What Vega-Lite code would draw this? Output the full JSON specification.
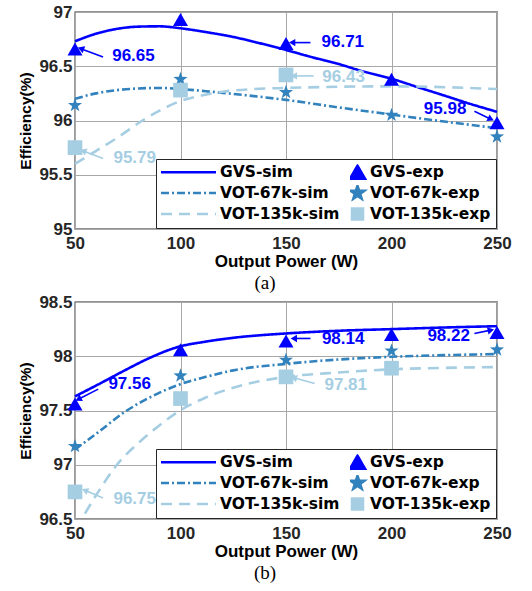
{
  "$schema": "https://vega.github.io/schema/vega-lite/v6.json",
  "padding": {"left": 18, "top": 2, "right": 0, "bottom": 0},
  "background": "white",
  "spacing": -2,
  "config": {
    "font": "Liberation Sans",
    "view": {"stroke": "#262626", "strokeWidth": 1.3},
    "axis": {
      "labelFont": "Liberation Sans", "labelFontWeight": "bold", "labelFontSize": 17, "labelColor": "#262626",
      "titleFont": "Liberation Sans", "titleFontWeight": "bold", "titleFontSize": 17, "titleColor": "#000000",
      "grid": true, "gridColor": "#a8a8a8", "gridWidth": 1, "gridOpacity": 1,
      "domain": false, "ticks": false, "labelFlush": false
    },
    "axisX": {"labelPadding": 6, "titlePadding": 2},
    "axisY": {"labelPadding": 3, "titlePadding": 5, "titleFontSize": 15.5},
    "legend": {
      "orient": "bottom-right", "offset": 1, "columns": 2, "columnPadding": 10, "rowPadding": 4,
      "clipHeight": 16, "padding": 5, "strokeColor": "#262626", "fillColor": "#ffffff",
      "labelFont": "DejaVu Sans", "labelFontWeight": "bold", "labelFontSize": 15.5, "labelColor": "#000000",
      "symbolSize": 3025, "symbolStrokeWidth": 2.5, "cornerRadius": 0
    }
  },
  "resolve": {"scale": {"color": "independent", "shape": "independent", "strokeDash": "independent", "size": "independent", "angle": "independent"}},
  "vconcat": [
    {
      "width": 422, "height": 217,
      "title": {"text": "(a)", "orient": "bottom", "font": "Liberation Serif", "fontSize": 19, "fontWeight": "normal", "frame": "bounds", "anchor": "middle", "offset": 5, "color": "#000000"},
      "layer": [
        {
          "data": {"values": [
            {"series": "GVS-sim", "power": 50, "eff": 96.73},
            {"series": "GVS-sim", "power": 60, "eff": 96.80},
            {"series": "GVS-sim", "power": 70, "eff": 96.845},
            {"series": "GVS-sim", "power": 80, "eff": 96.865},
            {"series": "GVS-sim", "power": 90, "eff": 96.868},
            {"series": "GVS-sim", "power": 100, "eff": 96.85},
            {"series": "GVS-sim", "power": 112, "eff": 96.815},
            {"series": "GVS-sim", "power": 125, "eff": 96.77},
            {"series": "GVS-sim", "power": 137, "eff": 96.715},
            {"series": "GVS-sim", "power": 150, "eff": 96.65},
            {"series": "GVS-sim", "power": 162, "eff": 96.585},
            {"series": "GVS-sim", "power": 175, "eff": 96.52},
            {"series": "GVS-sim", "power": 187, "eff": 96.45},
            {"series": "GVS-sim", "power": 200, "eff": 96.385},
            {"series": "GVS-sim", "power": 212, "eff": 96.31},
            {"series": "GVS-sim", "power": 225, "eff": 96.23},
            {"series": "GVS-sim", "power": 237, "eff": 96.155},
            {"series": "GVS-sim", "power": 250, "eff": 96.08},
            {"series": "VOT-67k-sim", "power": 50, "eff": 96.20},
            {"series": "VOT-67k-sim", "power": 60, "eff": 96.25},
            {"series": "VOT-67k-sim", "power": 70, "eff": 96.28},
            {"series": "VOT-67k-sim", "power": 80, "eff": 96.295},
            {"series": "VOT-67k-sim", "power": 90, "eff": 96.30},
            {"series": "VOT-67k-sim", "power": 100, "eff": 96.29},
            {"series": "VOT-67k-sim", "power": 112, "eff": 96.27},
            {"series": "VOT-67k-sim", "power": 125, "eff": 96.245},
            {"series": "VOT-67k-sim", "power": 137, "eff": 96.22},
            {"series": "VOT-67k-sim", "power": 150, "eff": 96.19},
            {"series": "VOT-67k-sim", "power": 175, "eff": 96.12},
            {"series": "VOT-67k-sim", "power": 200, "eff": 96.055},
            {"series": "VOT-67k-sim", "power": 225, "eff": 95.99},
            {"series": "VOT-67k-sim", "power": 250, "eff": 95.93},
            {"series": "VOT-135k-sim", "power": 50, "eff": 95.60},
            {"series": "VOT-135k-sim", "power": 60, "eff": 95.72},
            {"series": "VOT-135k-sim", "power": 70, "eff": 95.84},
            {"series": "VOT-135k-sim", "power": 82, "eff": 96.0},
            {"series": "VOT-135k-sim", "power": 91, "eff": 96.10},
            {"series": "VOT-135k-sim", "power": 100, "eff": 96.18},
            {"series": "VOT-135k-sim", "power": 110, "eff": 96.23},
            {"series": "VOT-135k-sim", "power": 120, "eff": 96.265},
            {"series": "VOT-135k-sim", "power": 135, "eff": 96.29},
            {"series": "VOT-135k-sim", "power": 150, "eff": 96.30},
            {"series": "VOT-135k-sim", "power": 200, "eff": 96.315},
            {"series": "VOT-135k-sim", "power": 250, "eff": 96.29}
          ]},
          "mark": {"type": "line", "strokeWidth": 2.6, "interpolate": "monotone"},
          "encoding": {
            "x": {"field": "power", "type": "quantitative", "title": "Output Power (W)", "scale": {"domain": [50, 250], "nice": false, "zero": false}, "axis": {"values": [50, 100, 150, 200, 250]}},
            "y": {"field": "eff", "type": "quantitative", "title": "Efficiency(%)", "scale": {"domain": [95, 97], "nice": false, "zero": false}, "axis": {"values": [95, 95.5, 96, 96.5, 97], "format": "~g"}},
            "color": {"field": "series", "type": "nominal",
              "scale": {"domain": ["GVS-sim", "VOT-67k-sim", "VOT-135k-sim", "GVS-exp", "VOT-67k-exp", "VOT-135k-exp"], "range": ["#0000ff", "#3182bd", "#a6cee3", "#0000ff", "#3182bd", "#a6cee3"]},
              "legend": {"title": null,
                "encode": {
                  "symbols": {"update": {
                    "shape": {"signal": "test(/sim/, datum.label) ? 'stroke' : test(/GVS/, datum.label) ? 'triangle-up' : test(/67k/, datum.label) ? 'M0,-1L0.235,-0.324L0.951,-0.309L0.38,0.124L0.588,0.809L0,0.4L-0.588,0.809L-0.38,0.124L-0.951,-0.309L-0.235,-0.324Z' : 'square'"},
                    "size": {"signal": "test(/sim/, datum.label) ? 3025 : test(/GVS/, datum.label) ? 225 : test(/67k/, datum.label) ? 200 : 120"},
                    "x": {"signal": "test(/sim/, datum.label) ? 27.5 : 7.5"},
                    "fill": {"signal": "test(/sim/, datum.label) ? 'transparent' : test(/GVS/, datum.label) ? '#0000ff' : test(/67k/, datum.label) ? '#3182bd' : '#a6cee3'"},
                    "stroke": {"signal": "test(/exp/, datum.label) ? 'transparent' : test(/GVS/, datum.label) ? '#0000ff' : test(/67k/, datum.label) ? '#3182bd' : '#a6cee3'"},
                    "strokeDash": {"signal": "test(/67k-sim/, datum.label) ? [8,3,2,3] : test(/135k-sim/, datum.label) ? [11,7] : [1,0]"},
                    "strokeWidth": {"value": 2.6},
                    "opacity": {"value": 1}
                  }},
                  "labels": {"update": {"x": {"signal": "test(/exp/, datum.label) ? 20 : 59"}}}
                }
              }
            },
            "strokeDash": {"field": "series", "type": "nominal", "legend": null,
              "scale": {"domain": ["GVS-sim", "VOT-67k-sim", "VOT-135k-sim"], "range": [[1, 0], [8, 3, 2, 3], [11, 7]]}}
          }
        },
        {
          "data": {"values": [
            {"series": "GVS-exp", "power": 50, "eff": 96.66},
            {"series": "GVS-exp", "power": 100, "eff": 96.93},
            {"series": "GVS-exp", "power": 150, "eff": 96.71},
            {"series": "GVS-exp", "power": 200, "eff": 96.38},
            {"series": "GVS-exp", "power": 250, "eff": 95.98},
            {"series": "VOT-67k-exp", "power": 50, "eff": 96.14},
            {"series": "VOT-67k-exp", "power": 100, "eff": 96.38},
            {"series": "VOT-67k-exp", "power": 150, "eff": 96.26},
            {"series": "VOT-67k-exp", "power": 200, "eff": 96.05},
            {"series": "VOT-67k-exp", "power": 250, "eff": 95.85},
            {"series": "VOT-135k-exp", "power": 50, "eff": 95.75},
            {"series": "VOT-135k-exp", "power": 100, "eff": 96.28},
            {"series": "VOT-135k-exp", "power": 150, "eff": 96.42}
          ]},
          "mark": {"type": "point", "filled": true, "opacity": 1, "strokeWidth": 0},
          "encoding": {
            "x": {"field": "power", "type": "quantitative", "title": "Output Power (W)", "scale": {"domain": [50, 250], "nice": false, "zero": false}},
            "y": {"field": "eff", "type": "quantitative", "title": "Efficiency(%)", "scale": {"domain": [95, 97], "nice": false, "zero": false}},
            "color": {"field": "series", "type": "nominal"},
            "shape": {"field": "series", "type": "nominal", "legend": null,
              "scale": {"domain": ["GVS-exp", "VOT-67k-exp", "VOT-135k-exp"], "range": ["triangle-up", "M0,-1L0.235,-0.324L0.951,-0.309L0.38,0.124L0.588,0.809L0,0.4L-0.588,0.809L-0.38,0.124L-0.951,-0.309L-0.235,-0.324Z", "square"]}},
            "size": {"field": "series", "type": "nominal", "legend": null,
              "scale": {"domain": ["GVS-exp", "VOT-67k-exp", "VOT-135k-exp"], "range": [225, 216, 130]}}
          }
        },
        {
          "data": {"values": [
            {"label": "96.65", "series": "GVS-exp", "tx": 63.3, "ty": 96.586, "hx": 52.8, "hy": 96.662},
            {"label": "96.71", "series": "GVS-exp", "tx": 161.6, "ty": 96.718, "hx": 152.9, "hy": 96.718},
            {"label": "96.43", "series": "VOT-135k-exp", "tx": 163.1, "ty": 96.411, "hx": 153.7, "hy": 96.411},
            {"label": "95.98", "series": "GVS-exp", "tx": 239.3, "ty": 96.086, "hx": 247.1, "hy": 96.012},
            {"label": "95.79", "series": "VOT-135k-exp", "tx": 63.3, "ty": 95.649, "hx": 53.9, "hy": 95.72}
          ]},
          "layer": [
            {
              "mark": {"type": "rule", "strokeWidth": 1.6},
              "encoding": {
                "x": {"field": "tx", "type": "quantitative", "title": "Output Power (W)", "scale": {"domain": [50, 250], "nice": false, "zero": false}},
                "y": {"field": "ty", "type": "quantitative", "title": "Efficiency(%)", "scale": {"domain": [95, 97], "nice": false, "zero": false}},
                "x2": {"field": "hx"},
                "y2": {"field": "hy"},
                "color": {"field": "series", "type": "nominal", "legend": null}
              }
            },
            {
              "mark": {"type": "point", "shape": "triangle-up", "filled": true, "opacity": 1, "size": 55, "strokeWidth": 0},
              "encoding": {
                "x": {"field": "hx", "type": "quantitative", "title": "Output Power (W)", "scale": {"domain": [50, 250], "nice": false, "zero": false}},
                "y": {"field": "hy", "type": "quantitative", "title": "Efficiency(%)", "scale": {"domain": [95, 97], "nice": false, "zero": false}},
                "color": {"field": "series", "type": "nominal", "legend": null},
                "angle": {"field": "label", "type": "nominal", "legend": null,
                  "scale": {"type": "ordinal", "domain": ["96.65", "96.71", "96.43", "95.98", "95.79"], "range": [290, 270, 270, 116, 291]}}
              }
            }
          ]
        },
        {
          "data": {"values": [
            {"label": "96.65", "series": "GVS-exp", "power": 77.7, "eff": 96.592},
            {"label": "96.71", "series": "GVS-exp", "power": 176.9, "eff": 96.724},
            {"label": "96.43", "series": "VOT-135k-exp", "power": 177.3, "eff": 96.401},
            {"label": "95.98", "series": "GVS-exp", "power": 225.4, "eff": 96.104},
            {"label": "95.79", "series": "VOT-135k-exp", "power": 78.3, "eff": 95.656}
          ]},
          "mark": {"type": "text", "font": "Liberation Sans", "fontWeight": "bold", "fontSize": 17, "align": "center", "baseline": "middle"},
          "encoding": {
            "x": {"field": "power", "type": "quantitative", "title": "Output Power (W)", "scale": {"domain": [50, 250], "nice": false, "zero": false}},
            "y": {"field": "eff", "type": "quantitative", "title": "Efficiency(%)", "scale": {"domain": [95, 97], "nice": false, "zero": false}},
            "text": {"field": "label"},
            "color": {"field": "series", "type": "nominal", "legend": null}
          }
        }
      ]
    },
    {
      "width": 422, "height": 217,
      "title": {"text": "(b)", "orient": "bottom", "font": "Liberation Serif", "fontSize": 19, "fontWeight": "normal", "frame": "bounds", "anchor": "middle", "offset": 5, "color": "#000000"},
      "layer": [
        {
          "data": {"values": [
            {"series": "GVS-sim", "power": 50, "eff": 97.63},
            {"series": "GVS-sim", "power": 61, "eff": 97.74},
            {"series": "GVS-sim", "power": 73.6, "eff": 97.87},
            {"series": "GVS-sim", "power": 86, "eff": 97.99},
            {"series": "GVS-sim", "power": 98.7, "eff": 98.085},
            {"series": "GVS-sim", "power": 112, "eff": 98.135},
            {"series": "GVS-sim", "power": 125, "eff": 98.17},
            {"series": "GVS-sim", "power": 150, "eff": 98.21},
            {"series": "GVS-sim", "power": 175, "eff": 98.235},
            {"series": "GVS-sim", "power": 200, "eff": 98.25},
            {"series": "GVS-sim", "power": 225, "eff": 98.265},
            {"series": "GVS-sim", "power": 250, "eff": 98.277},
            {"series": "VOT-67k-sim", "power": 50, "eff": 97.14},
            {"series": "VOT-67k-sim", "power": 61, "eff": 97.30},
            {"series": "VOT-67k-sim", "power": 73.6, "eff": 97.487},
            {"series": "VOT-67k-sim", "power": 86, "eff": 97.626},
            {"series": "VOT-67k-sim", "power": 98.7, "eff": 97.734},
            {"series": "VOT-67k-sim", "power": 112, "eff": 97.81},
            {"series": "VOT-67k-sim", "power": 125, "eff": 97.87},
            {"series": "VOT-67k-sim", "power": 150, "eff": 97.93},
            {"series": "VOT-67k-sim", "power": 175, "eff": 97.97},
            {"series": "VOT-67k-sim", "power": 200, "eff": 97.995},
            {"series": "VOT-67k-sim", "power": 225, "eff": 98.01},
            {"series": "VOT-67k-sim", "power": 250, "eff": 98.02},
            {"series": "VOT-135k-sim", "power": 54.7, "eff": 96.55},
            {"series": "VOT-135k-sim", "power": 62, "eff": 96.78},
            {"series": "VOT-135k-sim", "power": 69.7, "eff": 96.995},
            {"series": "VOT-135k-sim", "power": 80.6, "eff": 97.21},
            {"series": "VOT-135k-sim", "power": 90.1, "eff": 97.364},
            {"series": "VOT-135k-sim", "power": 98.7, "eff": 97.487},
            {"series": "VOT-135k-sim", "power": 112, "eff": 97.62},
            {"series": "VOT-135k-sim", "power": 125, "eff": 97.71},
            {"series": "VOT-135k-sim", "power": 150, "eff": 97.81},
            {"series": "VOT-135k-sim", "power": 175, "eff": 97.85},
            {"series": "VOT-135k-sim", "power": 200, "eff": 97.88},
            {"series": "VOT-135k-sim", "power": 225, "eff": 97.893},
            {"series": "VOT-135k-sim", "power": 250, "eff": 97.90}
          ]},
          "mark": {"type": "line", "strokeWidth": 2.6, "interpolate": "monotone"},
          "encoding": {
            "x": {"field": "power", "type": "quantitative", "title": "Output Power (W)", "scale": {"domain": [50, 250], "nice": false, "zero": false}, "axis": {"values": [50, 100, 150, 200, 250]}},
            "y": {"field": "eff", "type": "quantitative", "title": "Efficiency(%)", "scale": {"domain": [96.5, 98.5], "nice": false, "zero": false}, "axis": {"values": [96.5, 97, 97.5, 98, 98.5], "format": "~g"}},
            "color": {"field": "series", "type": "nominal",
              "scale": {"domain": ["GVS-sim", "VOT-67k-sim", "VOT-135k-sim", "GVS-exp", "VOT-67k-exp", "VOT-135k-exp"], "range": ["#0000ff", "#3182bd", "#a6cee3", "#0000ff", "#3182bd", "#a6cee3"]},
              "legend": {"title": null,
                "encode": {
                  "symbols": {"update": {
                    "shape": {"signal": "test(/sim/, datum.label) ? 'stroke' : test(/GVS/, datum.label) ? 'triangle-up' : test(/67k/, datum.label) ? 'M0,-1L0.235,-0.324L0.951,-0.309L0.38,0.124L0.588,0.809L0,0.4L-0.588,0.809L-0.38,0.124L-0.951,-0.309L-0.235,-0.324Z' : 'square'"},
                    "size": {"signal": "test(/sim/, datum.label) ? 3025 : test(/GVS/, datum.label) ? 225 : test(/67k/, datum.label) ? 200 : 120"},
                    "x": {"signal": "test(/sim/, datum.label) ? 27.5 : 7.5"},
                    "fill": {"signal": "test(/sim/, datum.label) ? 'transparent' : test(/GVS/, datum.label) ? '#0000ff' : test(/67k/, datum.label) ? '#3182bd' : '#a6cee3'"},
                    "stroke": {"signal": "test(/exp/, datum.label) ? 'transparent' : test(/GVS/, datum.label) ? '#0000ff' : test(/67k/, datum.label) ? '#3182bd' : '#a6cee3'"},
                    "strokeDash": {"signal": "test(/67k-sim/, datum.label) ? [8,3,2,3] : test(/135k-sim/, datum.label) ? [11,7] : [1,0]"},
                    "strokeWidth": {"value": 2.6},
                    "opacity": {"value": 1}
                  }},
                  "labels": {"update": {"x": {"signal": "test(/exp/, datum.label) ? 20 : 59"}}}
                }
              }
            },
            "strokeDash": {"field": "series", "type": "nominal", "legend": null,
              "scale": {"domain": ["GVS-sim", "VOT-67k-sim", "VOT-135k-sim"], "range": [[1, 0], [8, 3, 2, 3], [11, 7]]}}
          }
        },
        {
          "data": {"values": [
            {"series": "GVS-exp", "power": 50, "eff": 97.56},
            {"series": "GVS-exp", "power": 100, "eff": 98.06},
            {"series": "GVS-exp", "power": 150, "eff": 98.14},
            {"series": "GVS-exp", "power": 200, "eff": 98.20},
            {"series": "GVS-exp", "power": 250, "eff": 98.22},
            {"series": "VOT-67k-exp", "power": 50, "eff": 97.17},
            {"series": "VOT-67k-exp", "power": 100, "eff": 97.82},
            {"series": "VOT-67k-exp", "power": 150, "eff": 97.965},
            {"series": "VOT-67k-exp", "power": 200, "eff": 98.05},
            {"series": "VOT-67k-exp", "power": 250, "eff": 98.06},
            {"series": "VOT-135k-exp", "power": 50, "eff": 96.75},
            {"series": "VOT-135k-exp", "power": 100, "eff": 97.61},
            {"series": "VOT-135k-exp", "power": 150, "eff": 97.81},
            {"series": "VOT-135k-exp", "power": 200, "eff": 97.89}
          ]},
          "mark": {"type": "point", "filled": true, "opacity": 1, "strokeWidth": 0},
          "encoding": {
            "x": {"field": "power", "type": "quantitative", "title": "Output Power (W)", "scale": {"domain": [50, 250], "nice": false, "zero": false}},
            "y": {"field": "eff", "type": "quantitative", "title": "Efficiency(%)", "scale": {"domain": [96.5, 98.5], "nice": false, "zero": false}},
            "color": {"field": "series", "type": "nominal"},
            "shape": {"field": "series", "type": "nominal", "legend": null,
              "scale": {"domain": ["GVS-exp", "VOT-67k-exp", "VOT-135k-exp"], "range": ["triangle-up", "M0,-1L0.235,-0.324L0.951,-0.309L0.38,0.124L0.588,0.809L0,0.4L-0.588,0.809L-0.38,0.124L-0.951,-0.309L-0.235,-0.324Z", "square"]}},
            "size": {"field": "series", "type": "nominal", "legend": null,
              "scale": {"domain": ["GVS-exp", "VOT-67k-exp", "VOT-135k-exp"], "range": [225, 216, 130]}}
          }
        },
        {
          "data": {"values": [
            {"label": "97.56", "series": "GVS-exp", "tx": 61.0, "ty": 97.697, "hx": 51.6, "hy": 97.604},
            {"label": "98.14", "series": "GVS-exp", "tx": 161.6, "ty": 98.164, "hx": 153.7, "hy": 98.164},
            {"label": "98.22", "series": "GVS-exp", "tx": 239.3, "ty": 98.21, "hx": 247.1, "hy": 98.241},
            {"label": "97.81", "series": "VOT-135k-exp", "tx": 163.6, "ty": 97.748, "hx": 153.7, "hy": 97.801},
            {"label": "96.75", "series": "VOT-135k-exp", "tx": 63.3, "ty": 96.693, "hx": 54.7, "hy": 96.764}
          ]},
          "layer": [
            {
              "mark": {"type": "rule", "strokeWidth": 1.6},
              "encoding": {
                "x": {"field": "tx", "type": "quantitative", "title": "Output Power (W)", "scale": {"domain": [50, 250], "nice": false, "zero": false}},
                "y": {"field": "ty", "type": "quantitative", "title": "Efficiency(%)", "scale": {"domain": [96.5, 98.5], "nice": false, "zero": false}},
                "x2": {"field": "hx"},
                "y2": {"field": "hy"},
                "color": {"field": "series", "type": "nominal", "legend": null}
              }
            },
            {
              "mark": {"type": "point", "shape": "triangle-up", "filled": true, "opacity": 1, "size": 55, "strokeWidth": 0},
              "encoding": {
                "x": {"field": "hx", "type": "quantitative", "title": "Output Power (W)", "scale": {"domain": [50, 250], "nice": false, "zero": false}},
                "y": {"field": "hy", "type": "quantitative", "title": "Efficiency(%)", "scale": {"domain": [96.5, 98.5], "nice": false, "zero": false}},
                "color": {"field": "series", "type": "nominal", "legend": null},
                "angle": {"field": "label", "type": "nominal", "legend": null,
                  "scale": {"type": "ordinal", "domain": ["97.56", "98.14", "98.22", "97.81", "96.75"], "range": [243, 270, 78, 285, 293]}}
              }
            }
          ]
        },
        {
          "data": {"values": [
            {"label": "97.56", "series": "GVS-exp", "power": 75.9, "eff": 97.748},
            {"label": "98.14", "series": "GVS-exp", "power": 177.1, "eff": 98.155},
            {"label": "98.22", "series": "GVS-exp", "power": 227.1, "eff": 98.189},
            {"label": "97.81", "series": "VOT-135k-exp", "power": 178.3, "eff": 97.739},
            {"label": "96.75", "series": "VOT-135k-exp", "power": 78.3, "eff": 96.687}
          ]},
          "mark": {"type": "text", "font": "Liberation Sans", "fontWeight": "bold", "fontSize": 17, "align": "center", "baseline": "middle"},
          "encoding": {
            "x": {"field": "power", "type": "quantitative", "title": "Output Power (W)", "scale": {"domain": [50, 250], "nice": false, "zero": false}},
            "y": {"field": "eff", "type": "quantitative", "title": "Efficiency(%)", "scale": {"domain": [96.5, 98.5], "nice": false, "zero": false}},
            "text": {"field": "label"},
            "color": {"field": "series", "type": "nominal", "legend": null}
          }
        }
      ]
    }
  ]
}
